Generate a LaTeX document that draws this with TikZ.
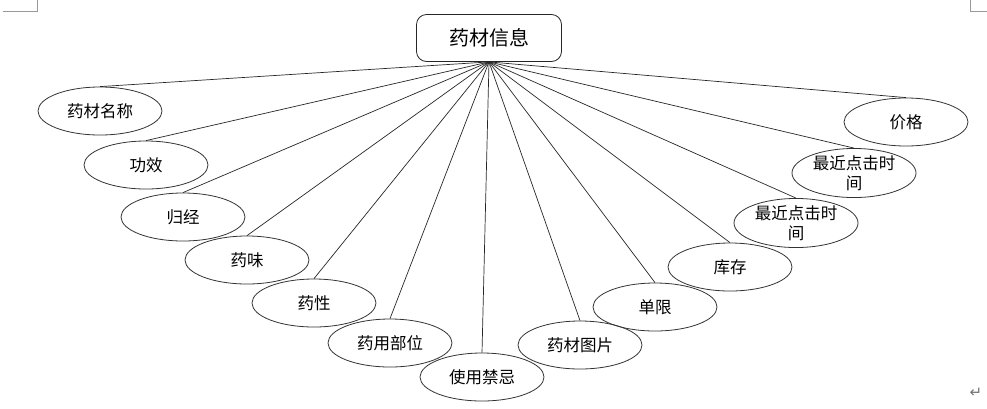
\documentclass[tikz,border=0pt]{standalone}
\usepackage{fontspec}
\setmainfont{Noto Sans CJK SC}
\newfontfamily\symfont{DejaVu Sans}
\usepackage{tikz}
\usetikzlibrary{shapes.geometric, positioning}

\begin{document}
\begin{tikzpicture}[
    x=1pt, y=-1pt,
    entity/.style={
        rectangle, rounded corners=10pt, draw=black!85, line width=0.8pt,
        minimum width=145pt, minimum height=47pt, align=center,
        font=\fontsize{20}{24}\selectfont
    },
    attr/.style={
        ellipse, draw=black!80, line width=0.8pt, inner sep=0pt,
        minimum width=124pt, minimum height=48pt, align=center,
        font=\fontsize{16.5}{19.5}\selectfont
    },
    link/.style={line width=0.7pt, black!85},
    cornermark/.style={line width=0.8pt, black!40},
]
\useasboundingbox (0,0) rectangle (987,408);

% Page corner marks
\draw[cornermark] (3,11) -- (37,11) -- (37,0);
\draw[cornermark] (987,11) -- (970,11) -- (970,0);
\node[inner sep=0pt, text=black!55, font=\symfont\fontsize{15}{15}\selectfont] (ret) at (976,393) {↵};

% Entity
\node[entity] (info) at (489,38) {药材信息};

% Attributes
\node[attr] (name)  at (100,111) {药材名称};
\node[attr] (gx)    at (146,165) {功效};
\node[attr] (gj)    at (183,217) {归经};
\node[attr] (wei)   at (247,260) {药味};
\node[attr] (xing)  at (314,303) {药性};
\node[attr] (part)  at (390,343) {药用部位};
\node[attr] (ban)   at (482,377) {使用禁忌};
\node[attr] (pic)   at (580,345) {药材图片};
\node[attr] (dx)    at (655,307) {单限};
\node[attr] (kc)    at (730,267) {库存};
\node[attr] (time1) at (796,223) {最近点击时\\间};
\node[attr] (time2) at (854,173) {最近点击时\\间};
\node[attr] (price) at (906,122) {价格};

% Links
\foreach \a in {name, gx, gj, wei, xing, part, ban, pic, dx, kc, time1, time2, price}
    \draw[link] (info.south) -- (\a.north);

\end{tikzpicture}
\end{document}
